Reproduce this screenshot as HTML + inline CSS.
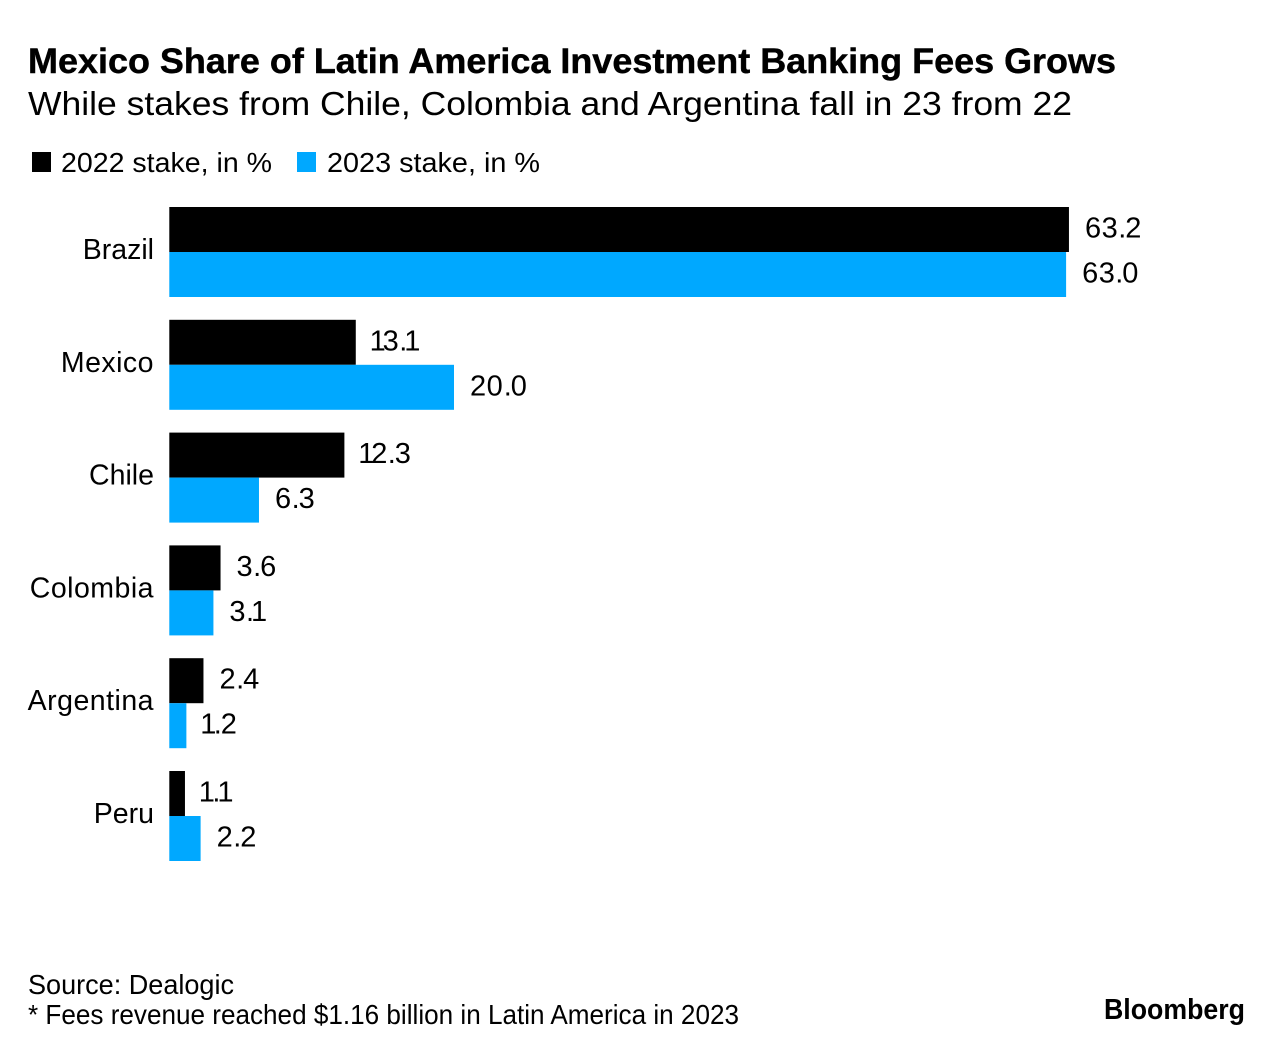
<!DOCTYPE html>
<html lang="en">
<head>
<meta charset="utf-8">
<title>Mexico Share of Latin America Investment Banking Fees Grows</title>
<style>
html,body{margin:0;padding:0;background:#fff;}
svg{display:block;}
text{font-family:"Liberation Sans",sans-serif;fill:#000;}
</style>
</head>
<body>
<svg id="chart" xmlns="http://www.w3.org/2000/svg" width="1283" height="1054" viewBox="0 0 1283 1054">
  <rect x="0" y="0" width="1283" height="1054" fill="#fff"/>
  <text x="28" y="73" font-size="35.5" font-weight="700" stroke="#000" stroke-width="0.45" textLength="1088" lengthAdjust="spacingAndGlyphs">Mexico Share of Latin America Investment Banking Fees Grows</text>
  <text x="28" y="115" font-size="33" textLength="1044" lengthAdjust="spacingAndGlyphs">While stakes from Chile, Colombia and Argentina fall in 23 from 22</text>
  <g>
    <rect x="32" y="152" width="19" height="20" fill="#000"/>
    <text x="61" y="172" font-size="28" textLength="211" lengthAdjust="spacingAndGlyphs">2022 stake, in %</text>
    <rect x="297" y="152" width="19" height="20" fill="#00a8ff"/>
    <text x="327" y="172" font-size="28" textLength="213" lengthAdjust="spacingAndGlyphs">2023 stake, in %</text>
  </g>
  <g id="plot"></g>
  <text x="28" y="994" font-size="27.5" textLength="206" lengthAdjust="spacingAndGlyphs">Source: Dealogic</text>
  <text x="28" y="1024" font-size="27.5" textLength="711" lengthAdjust="spacingAndGlyphs">* Fees revenue reached $1.16 billion in Latin America in 2023</text>
  <text x="1104" y="1019" font-size="29" font-weight="700" textLength="141" lengthAdjust="spacingAndGlyphs">Bloomberg</text>
</svg>
<script>
const categories = ["Brazil", "Mexico", "Chile", "Colombia", "Argentina", "Peru"];
const values2022 = [63.2, 13.1, 12.3, 3.6, 2.4, 1.1];
const values2023 = [63.0, 20.0, 6.3, 3.1, 1.2, 2.2];

const plotLeft = 169.3;
const plotTop = 207;
const unitWidth = 14.235;
const rowStep = 112.8;
const barHeight = 45;
const labelGap = 16;
const ns = "http://www.w3.org/2000/svg";
const plot = document.getElementById("plot");

function xScale(v) { return v * unitWidth; }
function rowY(i) { return plotTop + i * rowStep; }

/* The reference typeface has a narrow figure one; tighten the pen advance around it. */
function glyphPositions(str, startX) {
  const chars = Array.from(str);
  let x = startX - (chars[0] === "1" ? 2.2 : 0);
  return chars.map(function (ch, i) {
    const next = chars[i + 1];
    const here = x.toFixed(1);
    if (ch === "1") {
      x += next === "." ? 13.6 : 13;
    } else if (ch === ".") {
      x += next === "1" ? 5 : 7;
    } else {
      x += ch === "0" ? 17.2 : 16.6;
    }
    return here;
  }).join(" ");
}

function addBar(value, y, fill, name) {
  const r = document.createElementNS(ns, "rect");
  
  
  r.setAttribute("x", plotLeft);
  r.setAttribute("y", y);
  r.setAttribute("width", xScale(value));
  r.setAttribute("height", barHeight);
  r.setAttribute("fill", fill);
  plot.appendChild(r);
}

function addValue(value, y, name) {
  const t = document.createElementNS(ns, "text");
  const label = value.toFixed(1);
  
  
  t.setAttribute("x", glyphPositions(label, plotLeft + xScale(value) + labelGap));
  t.setAttribute("y", y + barHeight / 2 + 8);
  t.setAttribute("font-size", "29");
  t.textContent = label;
  plot.appendChild(t);
}

categories.forEach(function (cat, i) {
  const y = rowY(i);
  const key = cat.toLowerCase();
  addBar(values2022[i], y, "#000", "bar-2022-" + key);
  addBar(values2023[i], y + barHeight, "#00a8ff", "bar-2023-" + key);
  addValue(values2022[i], y, "value-2022-" + key);
  addValue(values2023[i], y + barHeight, "value-2023-" + key);
  const c = document.createElementNS(ns, "text");
  
  
  c.setAttribute("x", plotLeft - 15.3);
  c.setAttribute("y", y + barHeight + 7);
  c.setAttribute("font-size", "28.5");
  c.setAttribute("text-anchor", "end");
  if (/[mg]/i.test(cat)) {
    c.setAttribute("letter-spacing", "0.48");
  }
  c.textContent = cat;
  plot.appendChild(c);
});
</script>
</body>
</html>
